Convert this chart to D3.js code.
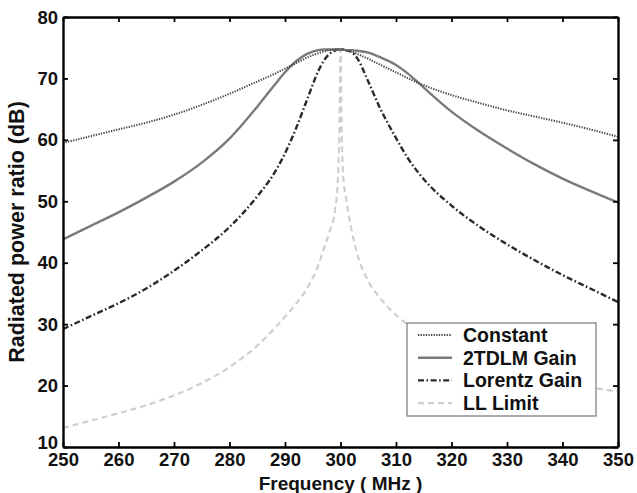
<!DOCTYPE html>
<html lang="en">
<head>
<meta charset="UTF-8">
<title>Radiated power ratio</title>
<script src="https://cdn.jsdelivr.net/npm/d3@7/dist/d3.min.js"></script>
<style>
  body { margin: 0; background: #fff; }
  text { font-family: "Liberation Sans", Arial, sans-serif; font-weight: bold; }
</style>
</head>
<body>
<script>
// frequency grid (MHz)
var freq = [250, 255, 260, 265, 270, 275, 280, 285, 288, 290, 292, 294, 296, 297, 298, 299, 299.5, 299.8,
            300, 300.2, 300.5, 301, 302, 303, 305, 307, 310, 312, 315, 320, 325, 330, 335, 340, 345, 350];

// series values (dB)
var constant = [59.5, 60.6, 61.7, 62.8, 64.1, 65.7, 67.5, 69.5, 70.7, 71.6, 72.5, 73.4, 74.1, 74.4, 74.6, 74.7, 74.7, 74.7,
                74.7, 74.7, 74.7, 74.6, 74.4, 74.0, 73.2, 72.3, 71.0, 70.1, 68.9, 67.3, 66.0, 64.8, 63.8, 62.8, 61.7, 60.5];
var tdlm = [43.8, 46.0, 48.2, 50.6, 53.2, 56.3, 60.2, 65.4, 68.8, 71.0, 72.8, 74.0, 74.6, 74.7, 74.7, 74.7, 74.7, 74.7,
            74.7, 74.7, 74.7, 74.6, 74.6, 74.5, 74.2, 73.5, 72.2, 70.9, 68.5, 64.6, 61.4, 58.6, 56.0, 53.7, 51.7, 49.8];
var lorentz = [29.2, 31.3, 33.4, 35.8, 38.7, 42.0, 45.8, 50.8, 54.5, 57.8, 61.9, 66.6, 71.2, 72.9, 74.0, 74.5, 74.7, 74.7,
               74.7, 74.7, 74.7, 74.6, 74.3, 73.3, 69.5, 65.4, 60.3, 57.2, 53.6, 49.3, 45.9, 43.0, 40.4, 38.0, 35.8, 33.6];
var llLimit = [13.1, 14.3, 15.5, 16.8, 18.4, 20.4, 23.0, 26.5, 29.2, 31.2, 33.3, 35.9, 39.6, 42.3, 45.0, 48.5, 53.0, 62.0,
               74.7, 62.0, 54.0, 50.5, 45.3, 41.5, 37.0, 34.4, 31.5, 30.0, 28.0, 25.5, 23.6, 22.2, 21.2, 20.4, 19.7, 19.0];

var xTicks = [250, 260, 270, 280, 290, 300, 310, 320, 330, 340, 350];
var yTicks = [10, 20, 30, 40, 50, 60, 70, 80];
var seriesNames = ["Constant", "2TDLM Gain", "Lorentz Gain", "LL Limit"];

var w = 637, h = 493;
var margin = {left: 63, right: 19, top: 17, bottom: 46};

var styles = [
  {color: "#444", width: 2, dash: "1.3,1.3"},
  {color: "#7a7a7a", width: 2.4, dash: null},
  {color: "#2a2a2a", width: 2.4, dash: "6,2.5,1.6,2.5"},
  {color: "#cfcfcf", width: 2.2, dash: "6,4"}
];
var allSeries = [constant, tdlm, lorentz, llLimit];

var svg = d3.select("body").append("svg")
  .attr("width", w)
  .attr("height", h);

var x = d3.scaleLinear().domain([250, 350]).range([margin.left, w - margin.right]);
var y = d3.scaleLinear().domain([10, 80]).range([h - margin.bottom, margin.top]);

svg.append("clipPath").attr("id", "clip")
  .append("rect")
  .attr("x", x(250)).attr("y", y(80))
  .attr("width", x(350) - x(250)).attr("height", y(10) - y(80));

var line = d3.line()
  .x(function(d) { return x(d[0]); })
  .y(function(d) { return y(d[1]); })
  .curve(d3.curveMonotoneX);

// draw in reverse so dark lines sit on top
var plot = svg.append("g").attr("clip-path", "url(#clip)");
[3, 2, 1, 0].forEach(function(i) {
  plot.append("path")
    .datum(freq.map(function(f, j) { return [f, allSeries[i][j]]; }))
    .attr("fill", "none")
    .attr("stroke", styles[i].color)
    .attr("stroke-width", styles[i].width)
    .attr("stroke-dasharray", styles[i].dash)
    .attr("d", line);
});

// axes, ticks inward, box
var tickLen = 5;
var xAxisBottom = svg.append("g").attr("transform", "translate(0," + y(10) + ")")
  .call(d3.axisBottom(x).tickValues(xTicks).tickSizeInner(-tickLen).tickSizeOuter(0).tickPadding(8));
var yAxisLeft = svg.append("g").attr("transform", "translate(" + x(250) + ",0)")
  .call(d3.axisLeft(y).tickValues(yTicks).tickSizeInner(-tickLen).tickSizeOuter(0).tickPadding(5));
var xAxisTop = svg.append("g").attr("transform", "translate(0," + y(80) + ")")
  .call(d3.axisTop(x).tickValues(xTicks).tickSizeInner(-tickLen).tickSizeOuter(0).tickFormat(""));
var yAxisRight = svg.append("g").attr("transform", "translate(" + x(350) + ",0)")
  .call(d3.axisRight(y).tickValues(yTicks).tickSizeInner(-tickLen).tickSizeOuter(0).tickFormat(""));

[xAxisBottom, yAxisLeft, xAxisTop, yAxisRight].forEach(function(g) {
  g.select(".domain").attr("stroke", "#000").attr("stroke-width", 2.4);
  g.selectAll(".tick line").attr("stroke", "#000").attr("stroke-width", 1.8);
  g.selectAll("text").attr("font-size", 18.5).attr("fill", "#111")
    .style("font-family", "'Liberation Sans', Arial, sans-serif").style("font-weight", "bold");
});
xAxisBottom.selectAll("text").attr("dy", "0.62em");
yAxisLeft.selectAll("text").attr("dy", "0.33em");
// lowest y label sits a little higher, as in the original
yAxisLeft.selectAll(".tick").filter(function(d) { return d === 10; }).select("text").attr("dy", "0.1em");

// axis titles
svg.append("text")
  .attr("x", (x(250) + x(350)) / 2)
  .attr("y", 489.5)
  .attr("text-anchor", "middle")
  .attr("font-size", 19)
  .attr("fill", "#111")
  .text("Frequency ( MHz )");

svg.append("text")
  .attr("transform", "translate(24," + ((y(10) + y(80)) / 2) + ") rotate(-90)")
  .attr("text-anchor", "middle")
  .attr("font-size", 21.5)
  .attr("fill", "#111")
  .text("Radiated power ratio (dB)");

// legend
var lg = svg.append("g");
lg.append("rect")
  .attr("x", 407).attr("y", 323)
  .attr("width", 189).attr("height", 93)
  .attr("fill", "#fff")
  .attr("stroke", "#777")
  .attr("stroke-width", 1.2);

seriesNames.forEach(function(name, i) {
  var cy = 335 + i * 22.7;
  lg.append("line")
    .attr("x1", 418).attr("x2", 452)
    .attr("y1", cy).attr("y2", cy)
    .attr("stroke", styles[i].color)
    .attr("stroke-width", styles[i].width)
    .attr("stroke-dasharray", styles[i].dash);
  lg.append("text")
    .attr("x", 463).attr("y", cy)
    .attr("dy", "0.36em")
    .attr("font-size", 19.5)
    .attr("fill", "#111")
    .text(name);
});
</script>
</body>
</html>
